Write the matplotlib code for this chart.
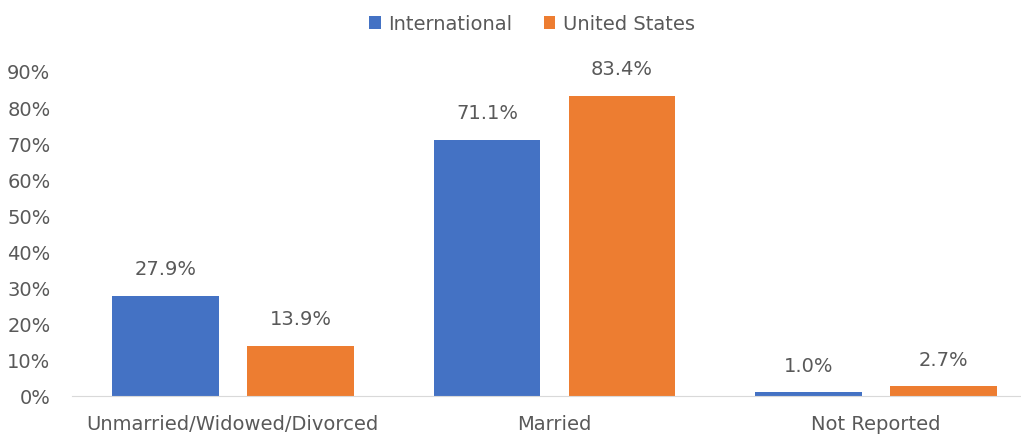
import matplotlib
matplotlib.use("Agg")
import matplotlib.pyplot as plt
import numpy as np

categories = ["Unmarried/Widowed/Divorced", "Married", "Not Reported"]
international = [27.9, 71.1, 1.0]
united_states = [13.9, 83.4, 2.7]
series_names = ["International", "United States"]
yticks = [0, 10, 20, 30, 40, 50, 60, 70, 80, 90]

plt.rcParams['font.family'] = ['DejaVu Sans']
TXT = "#595959"
BLUE = "#4472C4"
ORANGE = "#ED7D31"
FS = 14

fig = plt.figure(figsize=(10.21, 4.36), dpi=100)
ax = fig.add_axes([72/1021, 40/436, 1 - 72/1021, (396-72)/436])

x = np.arange(len(categories))
w = 0.332
off = 0.21
b1 = ax.bar(x - off, international, w, color=BLUE, label=series_names[0])
b2 = ax.bar(x + off, united_states, w, color=ORANGE, label=series_names[1])

for bars, vals in ((b1, international), (b2, united_states)):
    for rect, v in zip(bars, vals):
        ax.annotate(f"{v:.1f}%", (rect.get_x() + rect.get_width()/2, v),
                    xytext=(0, 12), textcoords="offset points",
                    ha="center", va="bottom", fontsize=FS, color=TXT)

ax.set_xlim(-0.5, 2.45)
ax.set_ylim(0, 90)
ax.set_yticks(yticks)
ax.set_yticklabels([f"{t}%" for t in yticks])
ax.set_xticks(x)
ax.set_xticklabels(categories)
ax.tick_params(axis='both', length=0, labelsize=FS, colors=TXT)
ax.tick_params(axis='x', pad=14)
ax.tick_params(axis='y', pad=15.5)
for s in ("top", "right", "left"):
    ax.spines[s].set_visible(False)
ax.spines["bottom"].set_color("#D9D9D9")

leg = fig.legend(handles=[b1, b2], labels=series_names, loc="center",
                 bbox_to_anchor=(532/1021, 1 - 24/436), ncol=2, frameon=False,
                 fontsize=FS, handlelength=0.6, handleheight=0.6,
                 handletextpad=0.4, columnspacing=1.6)
for t in leg.get_texts():
    t.set_color(TXT)

fig.savefig("out.png", dpi=100)
